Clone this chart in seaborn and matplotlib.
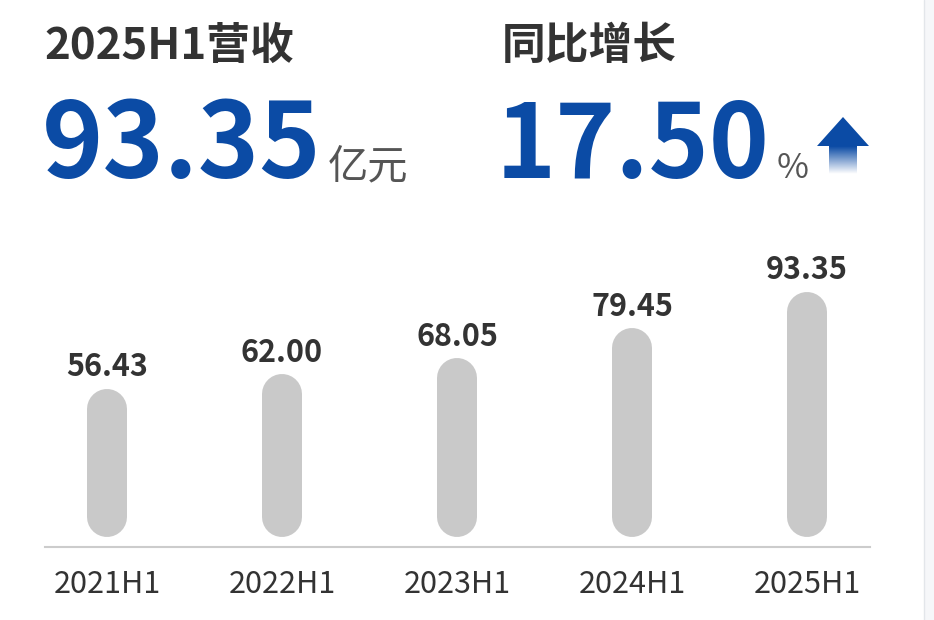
import numpy as np
import pandas as pd
import matplotlib
matplotlib.use('Agg')
import matplotlib.pyplot as plt
import seaborn as sns
from matplotlib.patches import Polygon, Rectangle
from matplotlib.colors import LinearSegmentedColormap

# 数据
periods = ['2021H1', '2022H1', '2023H1', '2024H1', '2025H1']
revenue = [56.43, 62.00, 68.05, 79.45, 93.35]
headline_title = '2025H1营收'
headline_value = '93.35'
headline_unit = '亿元'
growth_title = '同比增长'
growth_value = '17.50'
growth_unit = '%'

W, H = 934, 620
BLUE = '#0B4BA5'
DARK = '#333333'
BAR = '#C9C9C9'

sns.set_theme(style='white')
plt.rcParams['font.family'] = ['Noto Sans CJK SC', 'DejaVu Sans']

fig = plt.figure(figsize=(W / 100, H / 100), dpi=100)
fig.patch.set_facecolor('white')

# 柱状图区域（像素位置换算）
ax = fig.add_axes([45 / W, (H - 547) / H, (870 - 45) / W, (547 - 230) / H])
df = pd.DataFrame({'period': periods, 'revenue': revenue})
sns.barplot(data=df, x='period', y='revenue', color=BAR, ax=ax, width=0.2)

ppu = 2.628  # 每单位像素
ax.set_xlim(-62 / 175, (870 - 107) / 175)
ax.set_ylim(-10 / ppu, (537 - 230) / ppu)
r = 20 / ppu
for p, v in zip(ax.patches, revenue):
    xc = p.get_x() + p.get_width() / 2
    p.set_visible(False)
    ax.plot([xc, xc], [r, v - r], color=BAR, lw=40 * 0.72, solid_capstyle='round')
    ax.annotate(f'{v:.2f}', (xc, v), xytext=(0, 9), textcoords='offset points',
                ha='center', va='baseline', fontsize=22, fontweight='bold', color=DARK)

ax.set_xlabel('')
ax.set_ylabel('')
ax.set_yticks([])
for s in ['top', 'left', 'right']:
    ax.spines[s].set_visible(False)
ax.spines['bottom'].set_color('#CCCCCC')
ax.spines['bottom'].set_linewidth(1.5)
ax.tick_params(axis='x', length=0, pad=15.5, labelsize=22, labelcolor=DARK)

# 顶部文字与箭头
ov = fig.add_axes([0, 0, 1, 1])
ov.patch.set_alpha(0)
ov.axis('off')

ov.text(44, 59, headline_title, fontsize=31.5, fontweight='bold', color=DARK, va='baseline')
ov.text(502, 59, growth_title, fontsize=31.5, fontweight='bold', color=DARK, va='baseline')
ov.text(42, 178, headline_value, fontsize=75, fontweight='bold', color=BLUE, va='baseline')
ov.text(328, 178, headline_unit, fontsize=29, color='#555555', va='baseline')
ov.text(496, 178, growth_value, fontsize=73.5, fontweight='bold', color=BLUE, va='baseline')
ov.text(777, 178, growth_unit, fontsize=25, color='#555555', va='baseline')

ov.add_patch(Polygon([(817, 146), (869, 146), (843, 117)], closed=True, color=BLUE, lw=0))
cmap = LinearSegmentedColormap.from_list('fade', [BLUE, '#FFFFFF'])
grad = np.linspace(0, 1, 60).reshape(-1, 1)
ov.imshow(grad, extent=[829, 857, 174, 146], cmap=cmap, aspect='auto')

ov.add_patch(Rectangle((924, 0), 10, H, facecolor='#F6F7F9', edgecolor='none'))
ov.plot([924, 924], [0, H], color='#E3E6EA', lw=1)

ov.set_xlim(0, W)
ov.set_ylim(H, 0)

fig.savefig('out.png', dpi=100)
